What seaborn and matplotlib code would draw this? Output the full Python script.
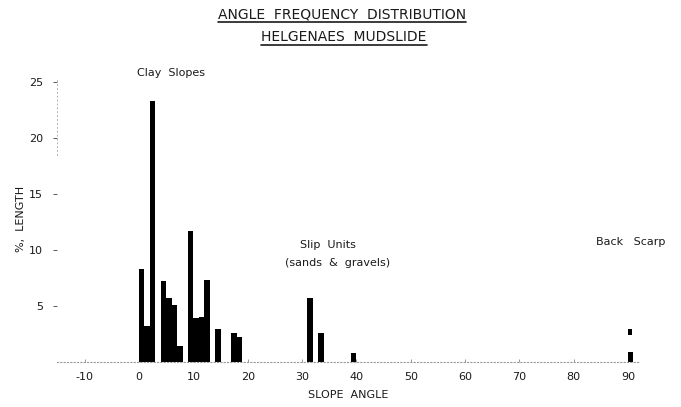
import numpy as np
import pandas as pd
import matplotlib
matplotlib.use("Agg")
import matplotlib.pyplot as plt
import seaborn as sns
from matplotlib.lines import Line2D

# ---- data ----
angles = [0, 1, 2, 4, 5, 6, 7, 9, 10, 11, 12, 14, 17, 18, 31, 33, 39, 90]
pct_length = [8.3, 3.2, 23.3, 7.2, 5.7, 5.1, 1.4, 11.7, 3.9, 4.0, 7.3,
              2.9, 2.6, 2.2, 5.7, 2.6, 0.8, 0.9]
# small detached mark above the back-scarp bar
scarp_mark_angle = [90]
scarp_mark_low = [2.4]
scarp_mark_high = [2.95]

x_ticks = [-10, 0, 10, 20, 30, 40, 50, 60, 70, 80, 90]
y_ticks = [5, 10, 15, 20, 25]

title1 = "ANGLE  FREQUENCY  DISTRIBUTION"
title2 = "HELGENAES  MUDSLIDE"
xlabel = "SLOPE  ANGLE"
ylabel = "%,  LENGTH"

df = pd.DataFrame({"angle": angles, "pct": pct_length})

sns.set_theme(style="white")
plt.rcParams["font.family"] = ["DejaVu Sans"]
ink = "#1a1a1a"

fig = plt.figure(figsize=(6.81, 4.07), dpi=100)
W, H = 681, 407
ax = fig.add_axes([57 / W, 1 - 362 / H, (640 - 57) / W, (362 - 76) / H])

sns.histplot(data=df, x="angle", weights="pct", binwidth=1,
             binrange=(-15, 93), stat="count", color="black", alpha=1,
             element="bars", linewidth=0, ax=ax)

ax.bar(scarp_mark_angle,
       np.array(scarp_mark_high) - np.array(scarp_mark_low),
       bottom=scarp_mark_low, width=0.7, align="edge", color="black",
       linewidth=0)

ax.set_xlim(-15.1, 92.2)
ax.set_ylim(0, 25.5)

ax.set_xticks(x_ticks)
ax.set_xticklabels([str(t) for t in x_ticks])
ax.set_yticks(y_ticks)
ax.set_yticklabels([str(t) for t in y_ticks])
ax.tick_params(axis="x", length=2, width=0.6, color="#888888", pad=7,
               labelsize=8, labelcolor=ink, direction="in", bottom=True)
ax.tick_params(axis="y", length=3, width=0.7, color="#555555", pad=7,
               labelsize=8, labelcolor=ink, direction="out", left=True)

for s in ["top", "right"]:
    ax.spines[s].set_visible(False)
ax.spines["bottom"].set_color("#9a9a9a")
ax.spines["bottom"].set_linestyle((0, (1, 2)))
ax.spines["bottom"].set_linewidth(0.8)
ax.spines["left"].set_color("#b0b0b0")
ax.spines["left"].set_linestyle((0, (1, 3)))
ax.spines["left"].set_linewidth(0.7)
ax.spines["left"].set_bounds(18.5, 25.2)

ax.set_xlabel(xlabel, fontsize=8, color=ink, labelpad=6)
ax.set_ylabel(ylabel, fontsize=8, color=ink, labelpad=2)
ax.grid(False)

# annotations
ax.text(5.9, 25.8, "Clay  Slopes", ha="center", va="center", fontsize=8,
        color=ink, clip_on=False)
ax.text(34.8, 10.4, "Slip  Units", ha="center", va="center", fontsize=8,
        color=ink)
ax.text(36.6, 8.8, "(sands  &  gravels)", ha="center", va="center",
        fontsize=8, color=ink)
ax.text(90.4, 10.7, "Back   Scarp", ha="center", va="center", fontsize=8,
        color=ink, clip_on=False)

# underlined title
t1 = fig.text(342 / W, 1 - 14 / H, title1, ha="center", va="center",
              fontsize=10, color=ink)
t2 = fig.text(344 / W, 1 - 37 / H, title2, ha="center", va="center",
              fontsize=10, color=ink)
fig.canvas.draw()
r = fig.canvas.get_renderer()
for t, yy in [(t1, 21.5), (t2, 45)]:
    bb = t.get_window_extent(renderer=r)
    fig.add_artist(Line2D([bb.x0 / W, bb.x1 / W], [1 - yy / H, 1 - yy / H],
                          transform=fig.transFigure, color=ink, lw=1.2))

fig.savefig("out.png", dpi=100, facecolor="white")
